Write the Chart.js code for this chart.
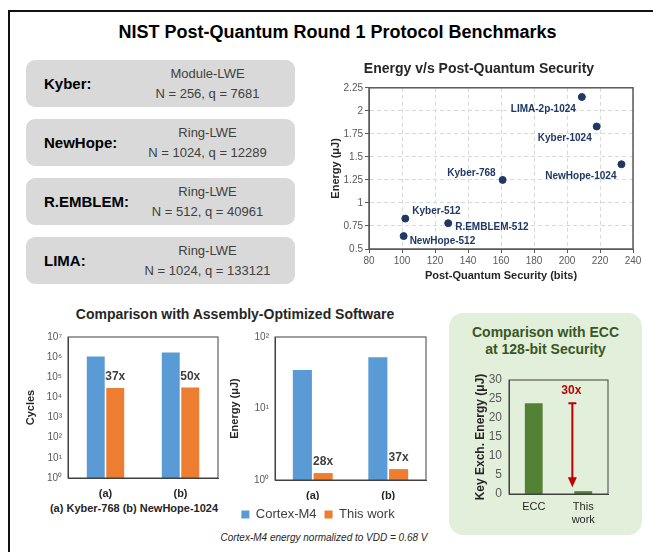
<!DOCTYPE html>
<html>
<head>
<meta charset="utf-8">
<script src="https://cdn.jsdelivr.net/npm/chart.js@4.4.0/dist/chart.umd.min.js"></script>
<style>
  body { margin: 0; width: 653px; height: 552px; overflow: hidden; position: relative; background: #fff;
         font-family: Arial, "Liberation Sans", sans-serif; color: #000; }
  .abs { position: absolute; }
  #frame { left: 8px; top: 10px; width: 700px; height: 600px; border-top: 2px solid #111; border-left: 2px solid #111; }
  #mainTitle { left: 0; top: 21px; width: 675px; text-align: center; font-weight: bold; font-size: 18px; line-height: 22px; }
  .scheme { left: 26px; width: 269px; height: 47px; background: #d9d9d9; border-radius: 9px; }
  .scheme .name { position: absolute; left: 18px; top: 0; line-height: 47px; font-weight: bold; font-size: 15px; }
  .scheme .params { position: absolute; left: 94px; width: 175px; top: 4px; text-align: center; font-size: 13px; line-height: 20px; color: #404040; }
  #sectionTitle { left: 0; top: 305px; width: 470px; text-align: center; font-weight: bold; font-size: 14px; line-height: 18px; color: #262626; }
  #caseNote { left: 34px; top: 501px; width: 200px; text-align: center; font-weight: bold; font-size: 11px; line-height: 14px; color: #262626; }
  #vddNote { left: 204px; top: 532px; width: 240px; text-align: center; font-style: italic; font-size: 10px; line-height: 12px; color: #262626; }
  #eccPanel { left: 449px; top: 313px; width: 193px; height: 222px; background: #e2efda; border-radius: 14px; }
  #eccTitle { left: 449px; top: 324px; width: 193px; text-align: center; font-weight: bold; font-size: 14px; line-height: 17px; color: #385723; }
  .wrap { position: absolute; }
  #scatterWrap { left: 325px; top: 58px; width: 320px; height: 227px; }
  #cyclesWrap { left: 20px; top: 325px; width: 210px; height: 183px; }
  #energyWrap { left: 210px; top: 325px; width: 228px; height: 206px; }
  #eccWrap { left: 469px; top: 360px; width: 150px; height: 172px; }
</style>
</head>
<body>
<div id="frame" class="abs"></div>
<div id="mainTitle" class="abs">NIST Post-Quantum Round 1 Protocol Benchmarks</div>
<div id="schemes"></div>
<div id="sectionTitle" class="abs">Comparison with Assembly-Optimized Software</div>
<div id="caseNote" class="abs">(a) Kyber-768 (b) NewHope-1024</div>
<div id="vddNote" class="abs">Cortex-M4 energy normalized to VDD = 0.68 V</div>
<div id="eccPanel" class="abs"></div>
<div id="eccTitle" class="abs">Comparison with ECC<br>at 128-bit Security</div>
<div id="scatterWrap" class="wrap"><canvas id="scatterChart"></canvas></div>
<div id="cyclesWrap" class="wrap"><canvas id="cyclesChart"></canvas></div>
<div id="energyWrap" class="wrap"><canvas id="energyChart"></canvas></div>
<div id="eccWrap" class="wrap"><canvas id="eccChart"></canvas></div>

<script>
// scheme boxes
const schemeNames = ["Kyber:", "NewHope:", "R.EMBLEM:", "LIMA:"];
const schemeProblems = ["Module-LWE", "Ring-LWE", "Ring-LWE", "Ring-LWE"];
const schemeParams = ["N = 256, q = 7681", "N = 1024, q = 12289", "N = 512, q = 40961", "N = 1024, q = 133121"];

// energy vs security scatter
const protocolNames = ["Kyber-512", "NewHope-512", "R.EMBLEM-512", "Kyber-768", "LIMA-2p-1024", "Kyber-1024", "NewHope-1024"];
const securityBits = [102, 101, 128, 161, 209, 218, 233];
const protocolEnergy = [0.83, 0.64, 0.78, 1.25, 2.15, 1.83, 1.42];

// assembly-optimized software comparison
const caseLabels = ["(a)", "(b)"];
const cyclesCortex = [1.07e6, 1.7e6];
const cyclesThisWork = [2.9e4, 3.1e4];
const cyclesRatio = ["37x", "50x"];
const energyCortex = [34.6, 52];
const energyThisWork = [1.25, 1.42];
const energyRatio = ["28x", "37x"];
const cycleTicks = [1, 10, 100, 1e3, 1e4, 1e5, 1e6, 1e7];
const cycleTickLabels = ["10⁰", "10¹", "10²", "10³", "10⁴", "10⁵", "10⁶", "10⁷"];
const energyTicks = [1, 10, 100];
const energyTickLabels = ["10⁰", "10¹", "10²"];

// ECC comparison
const eccLabels = ["ECC", ["This", "work"]];
const eccEnergy = [23.9, 0.75];
const eccRatio = "30x";

const FONT = "Arial, 'Liberation Sans', sans-serif";
Chart.defaults.font.family = FONT;
Chart.defaults.animation = false;
Chart.defaults.plugins.legend.display = false;
Chart.defaults.plugins.tooltip.enabled = false;

const holder = document.getElementById("schemes");
schemeNames.forEach((name, i) => {
  const box = document.createElement("div");
  box.className = "scheme abs";
  box.style.top = (60 + i * 59) + "px";
  box.innerHTML = `<div class="name">${name}</div><div class="params">${schemeProblems[i]}<br>${schemeParams[i]}</div>`;
  holder.appendChild(box);
});

// box round the plot area
const plotFrame = {
  id: "plotFrame",
  afterDraw(chart, args, opts) {
    const { ctx, chartArea: a } = chart;
    ctx.save();
    ctx.strokeStyle = opts.color || "#595959";
    ctx.lineWidth = opts.width || 1;
    ctx.strokeRect(a.left, a.top, a.right - a.left, a.bottom - a.top);
    ctx.restore();
  }
};

// names next to scatter points
const labelPlacement = [
  { dx: 7, dy: -7, align: "left" },
  { dx: 6, dy: 5, align: "left" },
  { dx: 7, dy: 4, align: "left" },
  { dx: -7, dy: -7, align: "right" },
  { dx: -6, dy: 12, align: "right" },
  { dx: -5, dy: 12, align: "right" },
  { dx: -5, dy: 12, align: "right" }
];
const pointNames = {
  id: "pointNames",
  afterDatasetsDraw(chart) {
    const ctx = chart.ctx;
    const meta = chart.getDatasetMeta(0);
    ctx.save();
    ctx.font = "bold 10px " + FONT;
    ctx.fillStyle = "#1f3864";
    ctx.textBaseline = "middle";
    meta.data.forEach((pt, i) => {
      const p = labelPlacement[i];
      ctx.textAlign = p.align;
      ctx.fillText(protocolNames[i], pt.x + p.dx, pt.y + p.dy);
    });
    ctx.restore();
  }
};

// "37x" style labels over the orange bars
const ratioLabels = {
  id: "ratioLabels",
  afterDatasetsDraw(chart, args, opts) {
    const ctx = chart.ctx;
    const meta = chart.getDatasetMeta(1);
    ctx.save();
    ctx.font = "bold 12px " + FONT;
    ctx.fillStyle = "#404040";
    ctx.textAlign = "center";
    ctx.textBaseline = "middle";
    meta.data.forEach((bar, i) => ctx.fillText(opts.labels[i], bar.x, bar.y - 11));
    ctx.restore();
  }
};

// red arrow ECC -> this work
const gapArrow = {
  id: "gapArrow",
  afterDatasetsDraw(chart) {
    const { ctx, scales: { x, y } } = chart;
    const x0 = x.getPixelForValue(0), x1 = x.getPixelForValue(1);
    const ax = x0 + (x1 - x0) * 0.78;
    const top = y.getPixelForValue(eccEnergy[0]);
    const tip = y.getPixelForValue(eccEnergy[1]) - 4;
    ctx.save();
    ctx.strokeStyle = "#c00000";
    ctx.fillStyle = "#c00000";
    ctx.lineWidth = 2;
    ctx.beginPath();
    ctx.moveTo(ax, top);
    ctx.lineTo(ax, tip - 8);
    ctx.moveTo(ax - 4, top);
    ctx.lineTo(ax + 4, top);
    ctx.stroke();
    ctx.beginPath();
    ctx.moveTo(ax - 4.5, tip - 10);
    ctx.lineTo(ax + 4.5, tip - 10);
    ctx.lineTo(ax, tip);
    ctx.closePath();
    ctx.fill();
    ctx.font = "bold 12px " + FONT;
    ctx.textAlign = "center";
    ctx.textBaseline = "middle";
    ctx.fillText(eccRatio, ax - 1, top - 12);
    ctx.restore();
  }
};

new Chart(document.getElementById("scatterChart"), {
  type: "scatter",
  data: {
    datasets: [{
      data: securityBits.map((b, i) => ({ x: b, y: protocolEnergy[i] })),
      backgroundColor: "#1f3864",
      borderColor: "#1f3864",
      pointRadius: 3.5
    }]
  },
  options: {
    responsive: true,
    maintainAspectRatio: false,
    layout: { padding: { right: 12 } },
    plugins: {
      title: { display: true, text: "Energy v/s Post-Quantum Security", color: "#262626",
               font: { size: 14, weight: "bold" }, padding: { top: 3, bottom: 10 } },
      plotFrame: { color: "#595959", width: 1.5 }
    },
    scales: {
      x: {
        type: "linear", min: 80, max: 240,
        ticks: { stepSize: 20, color: "#595959", font: { size: 10 }, padding: 2 },
        grid: { color: "#d9d9d9", tickLength: 4, tickColor: "#595959" },
        border: { dash: [4, 3], color: "#595959" },
        title: { display: true, text: "Post-Quantum Security (bits)", color: "#262626",
                 font: { size: 11, weight: "bold" }, padding: { top: 2, bottom: 2 } },
        afterFit(s) { s.height = 36; }
      },
      y: {
        min: 0.5, max: 2.25,
        ticks: { stepSize: 0.25, color: "#595959", font: { size: 10 }, padding: 2,
                 callback: v => String(+v.toFixed(2)) },
        grid: { color: "#d9d9d9", tickLength: 4, tickColor: "#595959" },
        border: { dash: [4, 3], color: "#595959" },
        title: { display: true, text: "Energy (μJ)", color: "#262626",
                 font: { size: 11, weight: "bold" }, padding: { top: 4, bottom: 2 } },
        afterFit(s) { s.width = 44; }
      }
    }
  },
  plugins: [plotFrame, pointNames]
});

function logBarOptions(ticks, tickLabels, yTitle, yWidth, titlePad, ratios, withLegend) {
  return {
    responsive: true,
    maintainAspectRatio: false,
    layout: { padding: { top: 12, right: 12 } },
    plugins: {
      plotFrame: { color: "#404040", width: 1 },
      ratioLabels: { labels: ratios },
      legend: {
        display: withLegend, position: "bottom",
        labels: { boxWidth: 8, boxHeight: 8, color: "#404040", font: { size: 13 }, padding: 8 }
      }
    },
    scales: {
      x: {
        grid: { display: false, drawTicks: false },
        border: { color: "#404040" },
        ticks: { color: "#262626", font: { size: 11, weight: "bold" }, padding: 9 },
        afterFit(s) { s.height = withLegend ? 20 : 30; }
      },
      y: {
        type: "logarithmic", min: 1, max: ticks[ticks.length - 1],
        grid: { display: false, drawTicks: false },
        border: { color: "#404040" },
        afterBuildTicks(s) { s.ticks = ticks.map(v => ({ value: v, major: true })); },
        ticks: { color: "#595959", font: { size: 10 }, padding: 6,
                 callback: v => tickLabels[ticks.indexOf(v)] },
        title: { display: true, text: yTitle, color: "#262626",
                 font: { size: 11, weight: "bold" }, padding: { top: titlePad, bottom: 2 } },
        afterFit(s) { s.width = yWidth; }
      }
    }
  };
}

new Chart(document.getElementById("cyclesChart"), {
  type: "bar",
  data: {
    labels: caseLabels,
    datasets: [
      { label: "Cortex-M4", data: cyclesCortex, backgroundColor: "#5b9bd5", categoryPercentage: 0.52, barPercentage: 0.92 },
      { label: "This work", data: cyclesThisWork, backgroundColor: "#ed7d31", categoryPercentage: 0.52, barPercentage: 0.92 }
    ]
  },
  options: logBarOptions(cycleTicks, cycleTickLabels, "Cycles", 48, 4, cyclesRatio, false),
  plugins: [plotFrame, ratioLabels]
});

new Chart(document.getElementById("energyChart"), {
  type: "bar",
  data: {
    labels: caseLabels,
    datasets: [
      { label: "Cortex-M4", data: energyCortex, backgroundColor: "#5b9bd5", categoryPercentage: 0.55, barPercentage: 0.92 },
      { label: "This work", data: energyThisWork, backgroundColor: "#ed7d31", categoryPercentage: 0.55, barPercentage: 0.92 }
    ]
  },
  options: logBarOptions(energyTicks, energyTickLabels, "Energy (μJ)", 65, 18, energyRatio, true),
  plugins: [plotFrame, ratioLabels]
});

new Chart(document.getElementById("eccChart"), {
  type: "bar",
  data: {
    labels: eccLabels,
    datasets: [{ data: eccEnergy, backgroundColor: "#548235", categoryPercentage: 1, barPercentage: 0.36 }]
  },
  options: {
    responsive: true,
    maintainAspectRatio: false,
    layout: { padding: { top: 20, right: 11 } },
    plugins: { plotFrame: { color: "#404040", width: 1 } },
    scales: {
      x: {
        grid: { display: false, drawTicks: false },
        border: { color: "#404040" },
        ticks: { color: "#262626", font: { size: 11 }, padding: 6 },
        afterFit(s) { s.height = 38; }
      },
      y: {
        min: 0, max: 30,
        grid: { display: false, drawTicks: false },
        border: { color: "#404040" },
        ticks: { stepSize: 5, color: "#595959", font: { size: 12 }, padding: 7 },
        title: { display: true, text: "Key Exch. Energy (μJ)", color: "#262626",
                 font: { size: 12, weight: "bold" }, padding: { top: 4, bottom: 2 } },
        afterFit(s) { s.width = 40; }
      }
    }
  },
  plugins: [plotFrame, gapArrow]
});
</script>
</body>
</html>
